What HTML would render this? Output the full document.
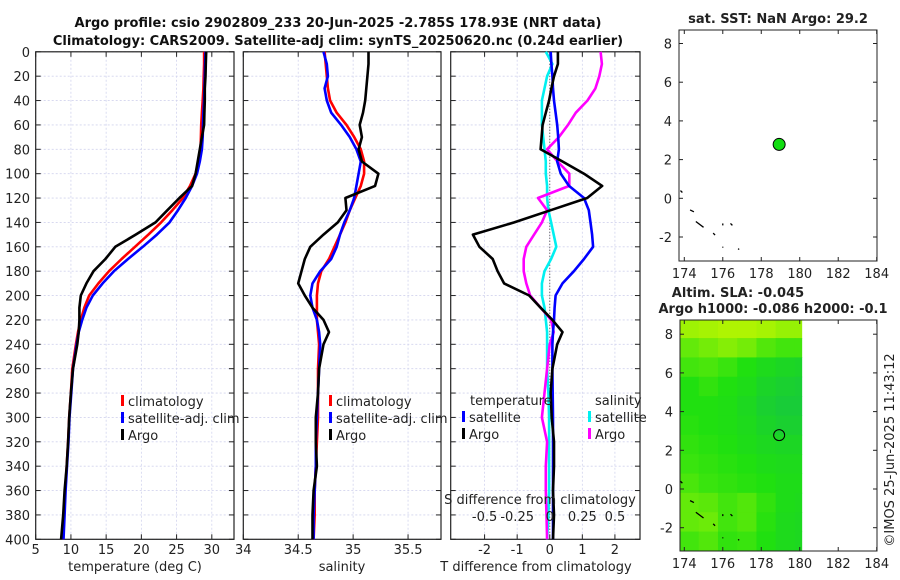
<!DOCTYPE html>
<html><head><meta charset="utf-8"><style>
body{margin:0;background:#fff;}
svg{display:block;font-family:"DejaVu Sans","Liberation Sans",sans-serif;}
</style></head><body>
<svg id="chart" width="900" height="580" viewBox="0 0 900 580" xmlns="http://www.w3.org/2000/svg">
<rect width="900" height="580" fill="#fff"/>
<text x="338" y="27" text-anchor="middle" font-size="13" font-weight="bold" fill="#111">Argo profile: csio 2902809_233 20-Jun-2025 -2.785S 178.93E (NRT data)</text>
<text x="338" y="45" text-anchor="middle" font-size="13" font-weight="bold" fill="#111">Climatology: CARS2009. Satellite-adj clim: synTS_20250620.nc (0.24d earlier)</text>
<g id="g"></g>
<text transform="translate(894,450) rotate(-90)" text-anchor="middle" font-size="13" fill="#222">©IMOS 25-Jun-2025 11:43:12</text>
</svg>
<script>
const depths = [0,10,20,30,40,50,60,70,80,90,100,110,120,130,140,150,160,170,180,190,200,210,220,230,240,260,280,300,320,340,360,380,400];
const tClim  = [28.9,28.9,28.85,28.8,28.7,28.6,28.5,28.45,28.4,28.1,27.7,26.9,25.9,24.4,22.8,21.0,19.1,17.2,15.4,13.9,12.6,11.9,11.4,11.0,10.7,10.2,10.0,9.75,9.6,9.4,9.2,9.05,8.9];
const tSat   = [29.1,29.05,29.0,28.95,28.9,28.8,28.75,28.7,28.6,28.3,27.9,27.2,26.3,25.2,24.0,22.2,20.2,18.1,16.1,14.5,13.1,12.2,11.6,11.1,10.8,10.3,10.05,9.8,9.65,9.45,9.25,9.1,8.95];
const tArgo  = [29.2,29.15,29.1,29.0,29.0,28.95,28.9,28.6,28.3,28.0,27.7,27.2,25.4,23.7,22.0,19.2,16.3,14.9,13.2,12.2,11.4,11.2,11.2,11.1,10.9,10.3,10.0,9.75,9.6,9.4,9.1,8.9,8.6];
const sClim  = [34.74,34.75,34.76,34.77,34.79,34.85,34.94,35.01,35.07,35.10,35.10,35.07,35.02,34.97,34.93,34.88,34.83,34.78,34.71,34.68,34.67,34.67,34.67,34.68,34.69,34.68,34.68,34.68,34.67,34.66,34.65,34.65,34.64];
const sSat   = [34.73,34.76,34.77,34.74,34.76,34.80,34.89,34.97,35.03,35.07,35.05,35.03,35.01,34.97,34.92,34.88,34.85,34.80,34.70,34.63,34.61,34.63,34.67,34.69,34.70,34.69,34.68,34.67,34.66,34.66,34.65,34.64,34.64];
const sArgo  = [35.14,35.14,35.13,35.12,35.11,35.09,35.06,35.08,35.05,35.08,35.23,35.20,34.93,34.94,34.86,34.73,34.61,34.56,34.53,34.50,34.56,34.63,34.73,34.78,34.73,34.69,34.68,34.66,34.66,34.67,34.64,34.63,34.63];
const dtSat  = [0.03,0.05,0.08,0.1,0.13,0.18,0.23,0.26,0.28,0.23,0.34,0.59,1.05,1.2,1.25,1.3,1.33,1.05,0.74,0.39,0.18,0.15,0.13,0.1,0.08,0.08,0.09,0.1,0.1,0.1,0.1,0.1,0.1];
const dtArgo = [0.25,0.25,0.13,0.05,-0.02,-0.12,-0.22,-0.25,-0.28,0.39,1.05,1.61,1.15,0.03,-1.09,-2.36,-2.16,-1.75,-1.6,-1.4,-0.63,-0.28,0.08,0.39,0.23,0.08,0.03,0.06,0.13,0.13,0.1,0.13,0.1];
const dsSat  = [-0.03,0.02,-0.02,-0.04,-0.06,-0.06,-0.06,-0.05,-0.04,-0.03,-0.03,-0.02,-0.02,-0.01,0.01,0.03,0.05,0.01,-0.04,-0.06,-0.06,-0.04,-0.03,-0.02,-0.02,-0.02,-0.01,-0.005,-0.005,-0.005,-0.005,-0.01,-0.02];
const dsArgo = [0.39,0.40,0.38,0.35,0.29,0.20,0.14,0.07,-0.02,0.06,0.15,0.15,-0.09,-0.02,-0.06,-0.12,-0.18,-0.20,-0.20,-0.18,-0.15,-0.07,0.01,0.03,0.0,-0.02,-0.04,-0.06,-0.02,-0.03,-0.03,-0.025,-0.02];
const depthTicks = [0,20,40,60,80,100,120,140,160,180,200,220,240,260,280,300,320,340,360,380,400];
const tTicks = [5,10,15,20,25,30];
const sTicks = [34,34.5,35,35.5];
const dTicks = [-2,-1,0,1,2];
const dsTickLabels = ["-0.5","-0.25","0","0.25","0.5"];
const dsTicks = [-0.5,-0.25,0,0.25,0.5];
const lonTicks = [174,176,178,180,182,184];
const latTicks = [-2,0,2,4,6,8];
const argoLon = 178.93, argoLat = 2.785;
const slaLonEdges = [173.75,174.75,175.75,176.75,177.75,178.75,179.75,180.1];
const slaLatEdges = [8.8,7.8,6.8,5.8,4.8,3.8,2.8,1.8,0.8,-0.2,-1.2,-2.2,-3.3];
const slaGrid = [
 [0.15,0.16,0.17,0.17,0.16,0.14,0.14],
 [0.08,0.10,0.12,0.10,0.06,0.04,0.04],
 [0.04,0.05,0.03,0.0,-0.03,-0.05,-0.06],
 [0.0,0.02,0.0,-0.02,-0.06,-0.08,-0.09],
 [0.0,0.0,-0.01,-0.04,-0.08,-0.1,-0.1],
 [0.01,0.0,-0.01,-0.03,-0.06,-0.08,-0.08],
 [0.02,0.01,0.0,-0.02,-0.04,-0.05,-0.05],
 [0.03,0.02,0.01,0.0,-0.02,-0.03,-0.03],
 [0.05,0.03,0.02,0.01,0.0,-0.02,-0.02],
 [0.08,0.07,0.04,0.06,0.02,-0.02,-0.03],
 [0.08,0.09,0.04,0.06,0.01,-0.03,-0.04],
 [0.04,0.06,0.02,0.03,0.0,-0.03,-0.04]];

const NS="http://www.w3.org/2000/svg";
const G=document.getElementById('g');
function el(tag,attrs,parent){const e=document.createElementNS(NS,tag);for(const k in attrs)e.setAttribute(k,attrs[k]);(parent||G).appendChild(e);return e;}
function txt(s,x,y,anchor,size,nm){const t=el('text',{x:x,y:y,'text-anchor':anchor,'font-size':size,fill:'#222'});t.textContent=s;


return t;}
const pTop=51.8, pBot=539.3;
const Y=d=>pTop+(pBot-pTop)*d/400;
function panel(x0,x1,xmin,xmax,nm,xticks,xtickLabels,labelY){
  const X=v=>x0+(x1-x0)*(v-xmin)/(xmax-xmin);
  const g=el('g',{});
  
  
  depthTicks.forEach(d=>{el('line',{x1:x0,x2:x1,y1:Y(d),y2:Y(d),stroke:'#d2d4ee','stroke-width':0.8,'stroke-dasharray':'2,2'},g);
    el('line',{x1:x0,x2:x0+5,y1:Y(d),y2:Y(d),stroke:'#222'},g);el('line',{x1:x1-5,x2:x1,y1:Y(d),y2:Y(d),stroke:'#222'},g);});
  xticks.forEach((v,i)=>{const x=X(v);el('line',{x1:x,x2:x,y1:pTop,y2:pBot,stroke:'#d2d4ee','stroke-width':0.8,'stroke-dasharray':'2,2'},g);
    el('line',{x1:x,x2:x,y1:pBot-5,y2:pBot,stroke:'#222'},g);el('line',{x1:x,x2:x,y1:pTop,y2:pTop+5,stroke:'#222'},g);
    if(xtickLabels) txt(xtickLabels[i],x,labelY,'middle',13,nm+'-x-tick');});
  el('rect',{x:x0,y:pTop,width:x1-x0,height:pBot-pTop,fill:'none',stroke:'#222','stroke-width':1.2},g);
  return X;
}
function series(X,vals,color,nm){
  const p=depths.map((d,i)=>X(vals[i]).toFixed(1)+','+Y(d).toFixed(1)).join(' ');
  const l=el('polyline',{points:p,fill:'none',stroke:color,'stroke-width':2.6,'stroke-linejoin':'round'});
  
  
}
// Panel 1
const X1=panel(35.7,234,5,33.15,'temperature-panel',tTicks,tTicks.map(String),554);
depthTicks.forEach(d=>txt(String(d),30,Y(d)+5,'end',13,'depth-tick-label'));
series(X1,tClim,'#f00','temperature-climatology-line');
series(X1,tSat,'#00f','temperature-satellite-line');
series(X1,tArgo,'#000','temperature-argo-line');
txt('temperature (deg C)',135,571,'middle',13,'x-axis-title-temperature');
// Panel 2
const X2=panel(243.3,441,34,35.8,'salinity-panel',sTicks,sTicks.map(String),554);
series(X2,sClim,'#f00','salinity-climatology-line');
series(X2,sSat,'#00f','salinity-satellite-line');
series(X2,sArgo,'#000','salinity-argo-line');
txt('salinity',342,571,'middle',13,'x-axis-title-salinity');
// Panel 3
const X3=panel(450.7,640,-3.04,2.77,'difference-panel',dTicks,dTicks.map(String),554);
el('line',{x1:X3(0),x2:X3(0),y1:pTop,y2:pBot,stroke:'#444','stroke-width':1,'stroke-dasharray':'1,2'});
const XS=v=>X3(v*4);
series(XS,dsSat,'#00f0f0','s-diff-satellite-line');
series(XS,dsArgo,'#f0f','s-diff-argo-line');
series(X3,dtSat,'#00f','t-diff-satellite-line');
series(X3,dtArgo,'#000','t-diff-argo-line');
dsTicks.forEach((v,i)=>txt(dsTickLabels[i],XS(v),521,'middle',13,'s-diff-tick-label'));
txt('S difference from climatology',540,504,'middle',13,'s-diff-axis-title');
txt('T difference from climatology',536,571,'middle',13,'t-diff-axis-title');
// legends
function legItem(x,y,color,label,nm){const m=el('rect',{x:x,y:y-11,width:3,height:11,fill:color});


txt(label,x+7,y,'start',13,nm);}
legItem(121,406,'#f00','climatology','legend-climatology');
legItem(121,423,'#00f','satellite-adj. clim','legend-satellite-adj-clim');
legItem(121,440,'#000','Argo','legend-argo');
legItem(329,406,'#f00','climatology','legend2-climatology');
legItem(329,423,'#00f','satellite-adj. clim','legend2-satellite-adj-clim');
legItem(329,440,'#000','Argo','legend2-argo');
txt('temperature',470,405,'start',13,'legend-temperature-heading');
legItem(462,422,'#00f','satellite','legend-t-satellite');
legItem(462,439,'#000','Argo','legend-t-argo');
txt('salinity',595,405,'start',13,'legend-salinity-heading');
legItem(588,422,'#00f0f0','satellite','legend-s-satellite');
legItem(588,439,'#f0f','Argo','legend-s-argo');
// Maps
function mapPanel(x0,x1,y0,y1,nm){
  const LX=v=>684.3+(v-174)*19.24;
  const lat0=y1===261?198.3:489;
  const LY=v=>lat0-v*19.35;
  const g=el('g',{});
  
  
  return {LX,LY,g,draw:()=>{
    lonTicks.forEach(v=>{const x=LX(v);el('line',{x1:x,x2:x,y1:y1-4,y2:y1,stroke:'#222'},g);el('line',{x1:x,x2:x,y1:y0,y2:y0+4,stroke:'#222'},g);txt(String(v),x,y1+17,'middle',13,nm+'-lon-tick');});
    latTicks.forEach(v=>{const y=LY(v);el('line',{x1:x0,x2:x0+4,y1:y,y2:y,stroke:'#222'},g);el('line',{x1:x1-4,x2:x1,y1:y,y2:y,stroke:'#222'},g);txt(String(v),x0-7,y+5,'end',13,nm+'-lat-tick');});
    el('rect',{x:x0,y:y0,width:x1-x0,height:y1-y0,fill:'none',stroke:'#222','stroke-width':1},g);
  }};
}
function coast(m){
  const segs=[[[173.8,0.4],[173.9,0.3]],[[174.3,-0.6],[174.5,-0.7]],[[174.6,-1.2],[175.0,-1.5]],[[175.5,-1.8],[175.6,-1.9]],[[176.0,-1.3],[176.0,-1.4]],[[176.4,-1.3],[176.5,-1.4]],[[176.0,-2.5],[176.0,-2.55]],[[176.8,-2.6],[176.85,-2.65]]];
  segs.forEach(s=>el('line',{x1:m.LX(s[0][0]),y1:m.LY(s[0][1]),x2:m.LX(s[1][0]),y2:m.LY(s[1][1]),stroke:'#000','stroke-width':1.3},m.g));
}
const m1=mapPanel(679,877,30,261,'sst-map');
coast(m1);
const dot=el('circle',{cx:m1.LX(argoLon),cy:m1.LY(argoLat),r:6,fill:'#11dd11',stroke:'#000','stroke-width':1},m1.g);


m1.draw();
txt('sat. SST: NaN Argo: 29.2',778,23,'middle',13,'sst-map-title').setAttribute('font-weight','bold');
const m2=mapPanel(680,877,320,551,'sla-map');
function slaColor(v){const t=Math.max(-1,Math.min(1,v/0.2));let a,b,f;
 if(t<0){a=[0x20,0xe0,0x10];b=[0x10,0xb8,0x60];f=-t;}else{a=[0x20,0xe0,0x10];b=[0xc8,0xf8,0x00];f=t;}
 return 'rgb('+a.map((c,i)=>Math.round(c+(b[i]-c)*f)).join(',')+')';}
slaGrid.forEach((row,r)=>row.forEach((v,c)=>{
  const x0=Math.max(680,m2.LX(slaLonEdges[c])),x1=m2.LX(slaLonEdges[c+1]);
  const ya=Math.max(320,m2.LY(slaLatEdges[r])),yb=Math.min(551,m2.LY(slaLatEdges[r+1]));
  const cell=el('rect',{x:x0,y:ya,width:x1-x0+0.5,height:yb-ya+0.5,fill:slaColor(v)},m2.g);
  
  
}));
coast(m2);
const ring=el('circle',{cx:m2.LX(argoLon),cy:m2.LY(argoLat),r:5.5,fill:'none',stroke:'#000','stroke-width':1},m2.g);


m2.draw();
txt('Altim. SLA: -0.045',738,297,'middle',13,'sla-map-title-1').setAttribute('font-weight','bold');
txt('Argo h1000: -0.086 h2000: -0.1',773,313,'middle',13,'sla-map-title-2').setAttribute('font-weight','bold');
</script>
</body></html>
